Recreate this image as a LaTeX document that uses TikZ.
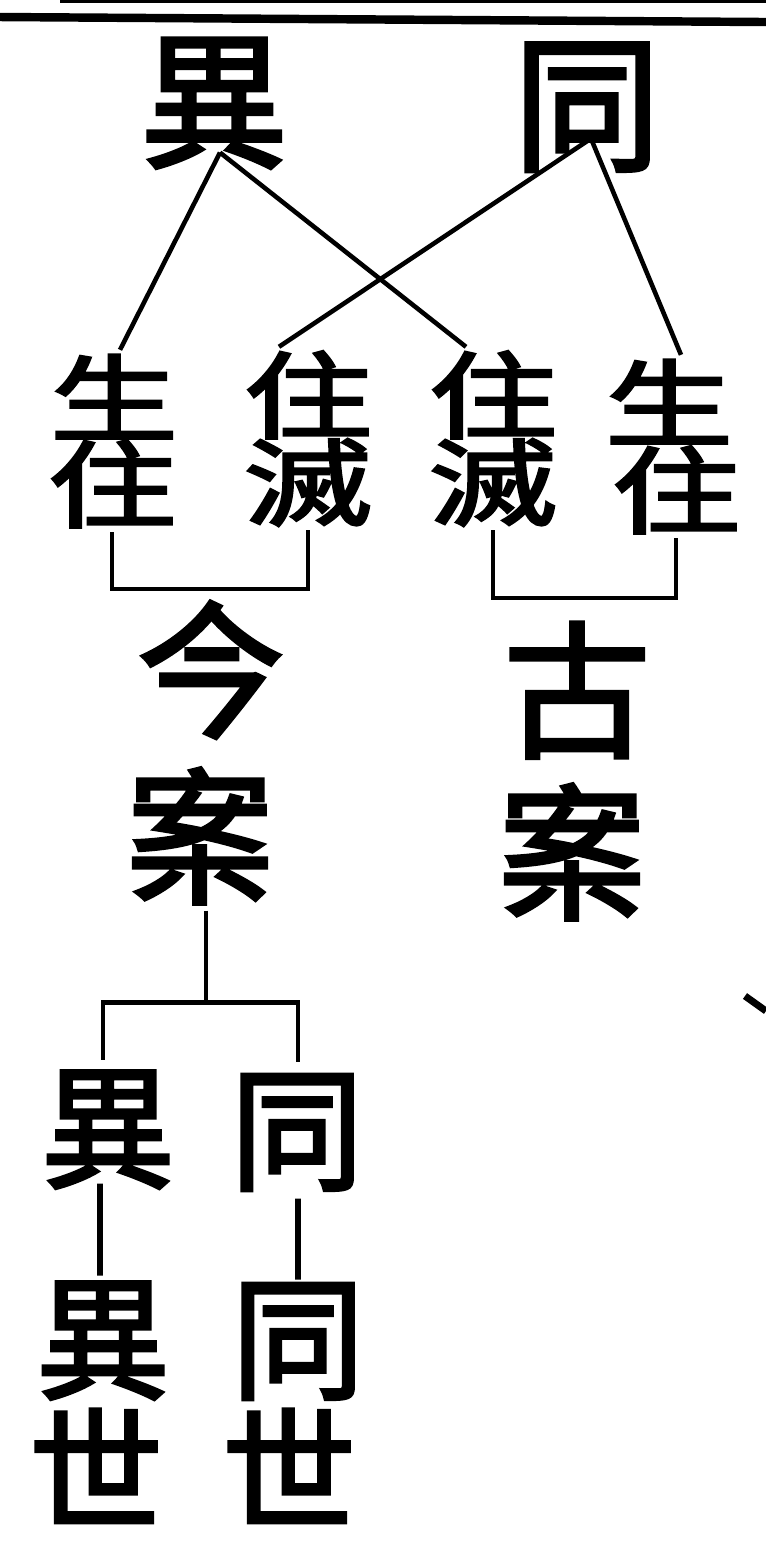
\documentclass[tikz,border=0pt]{standalone}
\usepackage{fontspec}
\usepackage{graphicx}
\newfontfamily\cjk[FakeBold=2.5]{Noto Sans CJK TC}
\newcommand{\flatchar}[1]{\scalebox{1.35}[1]{#1}}

\begin{document}
\begin{tikzpicture}
[x=0.01cm,y=-0.01cm,
  bigchar/.style={inner sep=0pt,text height=37pt,text depth=5pt,
    font=\cjk\fontsize{42pt}{42pt}\selectfont},%
  lowchar/.style={inner sep=0pt,text height=33.4pt,text depth=4.6pt,
    font=\cjk\fontsize{38pt}{38pt}\selectfont},%
  smallchar/.style={inner sep=0pt,text height=23.8pt,text depth=3.2pt,
    font=\cjk\fontsize{27pt}{27pt}\selectfont},%
  linedecorate/.style={-,line width=1.3pt},%
  ruledecorate/.style={-,line width=2.4pt}]
\useasboundingbox (0,0) rectangle (766,1559);
%% rules at the top
\draw[ruledecorate] (0,17) -- (766,22);
\draw[line width=1.2pt] (60,1) -- (766,1);
%% large characters
\foreach \nodename/\x/\y/\txt in {yi/214/100/異, tong/587/103/同,
  jin/211/670/今, jinan/200/836/案, gu/577/690/古, guan/572/852/案} {
  \node (\nodename) at (\x,\y) [bigchar] {\txt};
}
\foreach \nodename/\x/\y/\txt in {yia/108/1127/異, yib/103/1338/異,
  shia/96/1470/世, tonga/297/1129/同, tongb/298/1338/同, shib/289/1470/世} {
  \node (\nodename) at (\x,\y) [lowchar] {\txt};
}
%% small characters, two to a column
\foreach \nodename/\x/\y/\txt in {sheng1/114/398/生, zhu1/112/484/住,
  zhu2/308/395/住, mie2/308/482/滅, zhu3/493/395/住, mie3/493/482/滅,
  sheng4/669/403/生, zhu4/676/490/住} {
  \node (\nodename) at (\x,\y) [smallchar] {\flatchar{\txt}};
}
%% crossing lines
\coordinate (yiapex) at ([xshift=0.6mm,yshift=2.2mm]yi.south);
\coordinate (tongapex) at ([xshift=0.4mm,yshift=3.9mm]tong.south);
\draw[linedecorate] (yiapex) -- ([xshift=0.6mm]sheng1.north);
\draw[linedecorate] (yiapex) -- ([xshift=-2.7mm]zhu3.north);
\draw[linedecorate] (tongapex) -- ([xshift=-2.9mm]zhu2.north);
\draw[linedecorate] (tongapex) -- ([xshift=1.2mm]sheng4.north);
%% brackets
\draw[linedecorate] (zhu1.south) -- ++(0,57) -| (mie2.south);
\draw[linedecorate] (mie3.south) -- ++(0,68) -| (zhu4.south);
%% fork below
\coordinate (fork) at ([xshift=0.6mm,yshift=-9.2mm]jinan.south);
\draw[linedecorate] ([xshift=0.6mm]jinan.south) -- (fork);
\draw[linedecorate] ([xshift=-0.5mm]yia.north) |- (fork) -| ([xshift=0.1mm]tonga.north);
\draw[line width=1.6pt] ([xshift=-0.8mm,yshift=1.1mm]yia.south) -- ([xshift=-0.3mm,yshift=-0.5mm]yib.north);
\draw[line width=1.6pt] ([xshift=0.1mm,yshift=-0.2mm]tonga.south) -- ([yshift=-0.9mm]tongb.north);
%% stroke at the edge
\draw[line width=2pt] (745,996) -- (766,1011);
\end{tikzpicture}
\end{document}
